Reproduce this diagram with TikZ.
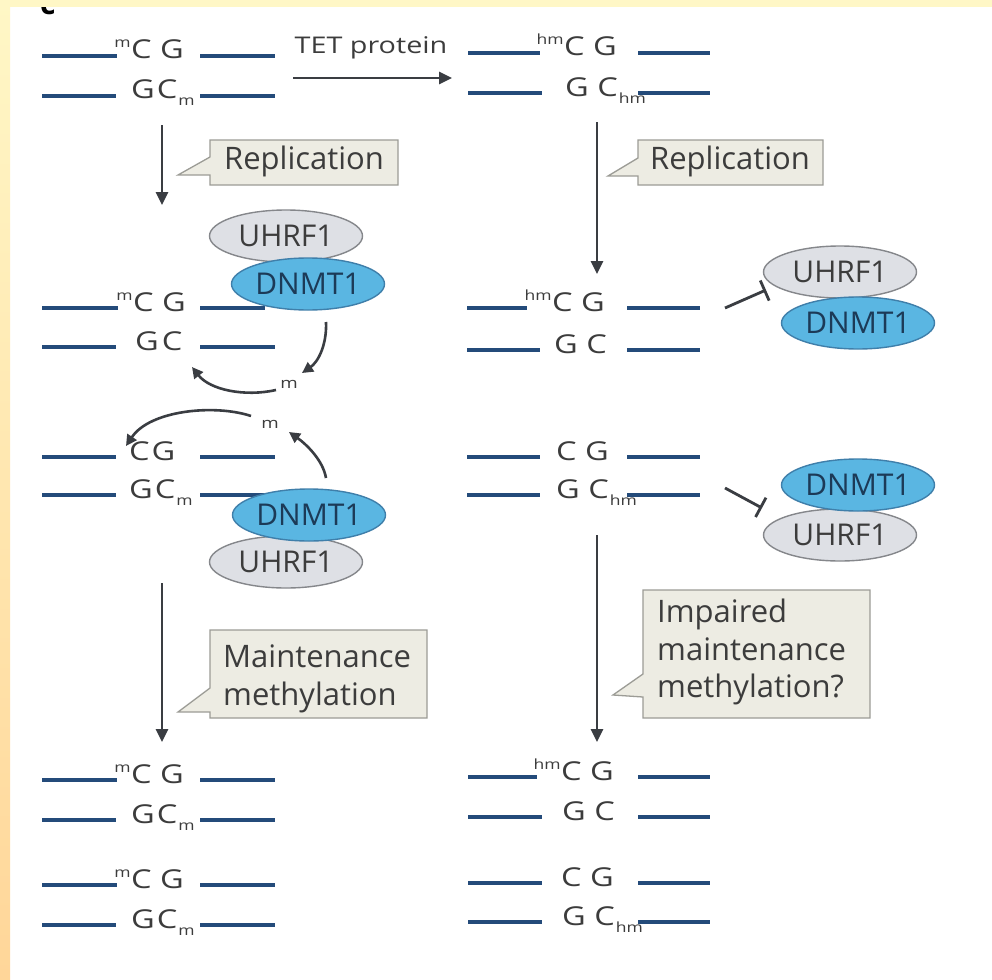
\documentclass[tikz,border=0pt]{standalone}
\usepackage{fontspec}
\setmainfont{Open Sans}
\newfontfamily\basefont{Open Sans}[FakeStretch=1.25]
\usetikzlibrary{arrows.meta,shapes.geometric}
\definecolor{strand}{HTML}{244B7A}
\definecolor{arr}{HTML}{3A3D42}
\definecolor{txt}{HTML}{3C3C3C}
\definecolor{boxfill}{HTML}{EDECE3}
\definecolor{boxdraw}{HTML}{9C9C96}
\definecolor{ufill}{HTML}{DEE0E5}
\definecolor{udraw}{HTML}{85878B}
\definecolor{dfill}{HTML}{5AB6E2}
\definecolor{ddraw}{HTML}{3F7FAA}
\definecolor{dtext}{HTML}{1C3A57}
\definecolor{bandtop}{HTML}{FFF7C6}
\definecolor{bandlo}{HTML}{FFD699}
\newcommand\supm[1]{\llap{\raisebox{11pt}{\fontsize{14}{14}\selectfont #1}\kern0.5pt}}
\newcommand\subm[1]{\rlap{\kern1pt\raisebox{-7pt}{\fontsize{14}{14}\selectfont #1}}}
\tikzset{
  strandline/.style={draw=strand, line width=4pt},
  bptext/.style={font=\basefont\fontsize{26}{26}\selectfont, text=txt, inner sep=0pt, anchor=base west},
  flow/.style={draw=arr, line width=2.8pt, -{Triangle[length=13pt,width=12pt]}},
  curv/.style={draw=arr, line width=2.6pt, -{Triangle[length=11pt,width=11pt]}},
  inhib/.style={draw=arr, line width=2.8pt, -{Bar[width=22pt]}},
  callout/.style={fill=boxfill, draw=boxdraw, line width=1.3pt},
  calltext/.style={font=\fontsize{31}{31}\selectfont, text=txt, inner sep=0pt},
  mlab/.style={font=\basefont\fontsize{15}{15}\selectfont, text=txt, inner sep=0pt},
  prot/.style={ellipse, line width=1.4pt, inner sep=0pt, minimum width=153pt, minimum height=52pt, font=\fontsize{30}{30}\selectfont},
  uhrf/.style={prot, fill=ufill, draw=udraw, text=txt},
  dnmt/.style={prot, fill=dfill, draw=ddraw, text=dtext},
}
\begin{document}
\begin{tikzpicture}[x=1pt,y=-1pt]
\useasboundingbox (0,0) rectangle (992,979);
\fill[white] (0,0) rectangle (992,979);
% panel label (clipped by the band, as in the reference)
\node[font=\bfseries\fontsize{30}{30}\selectfont, anchor=base west, inner sep=0pt] (panel) at (40,15) {c};
% ---------- left column strands ----------
% L1
\draw[strandline] (42,56) -- (117,56) (200,56) -- (275,56) (42,96) -- (116,96) (200,96) -- (275,96);
\node[bptext] (l1t) at (131,59) {\supm{m}C G};
\node[bptext] (l1b) at (131,99) {G\kern2pt C\subm{m}};
% L2
\draw[strandline] (42,308) -- (118,308) (200,308) -- (265,308) (42,347) -- (116,347) (200,347) -- (275,347);
\node[bptext] (l2t) at (133,311) {\supm{m}C G};
\node[bptext] (l2b) at (135,350) {G\kern3pt C};
% L3
\draw[strandline] (42,457) -- (116,457) (200,457) -- (275,457) (42,495) -- (116,495) (200,495) -- (265,495);
\node[bptext] (l3t) at (129,460) {C\kern2pt G};
\node[bptext] (l3b) at (129,498) {G\kern2pt C\subm{m}};
% L4
\draw[strandline] (42,780) -- (117,780) (200,780) -- (275,780) (42,820) -- (116,820) (200,820) -- (275,820);
\node[bptext] (l4t) at (131,783) {\supm{m}C G};
\node[bptext] (l4b) at (131,823) {G\kern2pt C\subm{m}};
% L5
\draw[strandline] (42,885) -- (117,885) (200,885) -- (275,885) (42,925) -- (116,925) (200,925) -- (275,925);
\node[bptext] (l5t) at (131,888) {\supm{m}C G};
\node[bptext] (l5b) at (131,928) {G\kern2pt C\subm{m}};
% ---------- right column strands ----------
% R1
\draw[strandline] (468,53) -- (540,53) (638,53) -- (710,53) (468,93) -- (542,93) (638,93) -- (710,93);
\node[bptext] (r1t) at (564,56) {\supm{hm}C G};
\node[bptext] (r1b) at (565,96) {G C\subm{hm}};
% R2
\draw[strandline] (467,308) -- (527,308) (627,308) -- (700,308) (467,350) -- (540,350) (627,350) -- (700,350);
\node[bptext] (r2t) at (552,311) {\supm{hm}C G};
\node[bptext] (r2b) at (554,353) {G C};
% R3
\draw[strandline] (467,457) -- (540,457) (627,457) -- (700,457) (467,495) -- (540,495) (627,495) -- (700,495);
\node[bptext] (r3t) at (556,460) {C G};
\node[bptext] (r3b) at (556,498) {G C\subm{hm}};
% R4
\draw[strandline] (468,777) -- (537,777) (638,777) -- (710,777) (468,817) -- (542,817) (638,817) -- (710,817);
\node[bptext] (r4t) at (561,780) {\supm{hm}C G};
\node[bptext] (r4b) at (562,820) {G C};
% R5
\draw[strandline] (468,883) -- (542,883) (638,883) -- (710,883) (468,922) -- (542,922) (638,922) -- (710,922);
\node[bptext] (r5t) at (561,886) {C G};
\node[bptext] (r5b) at (562,925) {G C\subm{hm}};
% ---------- TET arrow ----------
\node[font=\basefont\fontsize{23}{23}\selectfont, text=txt, inner sep=0pt, anchor=base] (tet) at (371,54) {TET protein};
\coordinate (tetS) at (293,78);
\coordinate (tetE) at (452,78);
\draw[flow] (tetS) -- (tetE);
% ---------- vertical arrows ----------
\coordinate (v1s) at (162,125); \coordinate (v1e) at (162,205);
\coordinate (v2s) at (597,122); \coordinate (v2e) at (597,274);
\coordinate (v3s) at (162,583); \coordinate (v3e) at (162,742);
\coordinate (v4s) at (597,535); \coordinate (v4e) at (597,742);
\draw[flow] (v1s) -- (v1e);
\draw[flow] (v2s) -- (v2e);
\draw[flow] (v3s) -- (v3e);
\draw[flow] (v4s) -- (v4e);
% ---------- callouts ----------
\draw[callout] (398,140) -- (210,140) -- (210,157) -- (178,175) -- (210,175) -- (210,185) -- (398,185) -- cycle;
\node[calltext, anchor=base] (rep1) at (304,169) {Replication};
\draw[callout] (823,140) -- (638,140) -- (638,158) -- (608,176) -- (638,176) -- (638,185) -- (823,185) -- cycle;
\node[calltext, anchor=base] (rep2) at (730,169) {Replication};
\draw[callout] (427,630) -- (210,630) -- (210,688) -- (178,712) -- (210,712) -- (210,718) -- (427,718) -- cycle;
\node[calltext, anchor=base west] (mm1) at (223,667) {Maintenance};
\node[calltext, anchor=base west] (mm2) at (223,705) {methylation};
\draw[callout] (870,590) -- (643,590) -- (643,674) -- (613,695) -- (643,697) -- (643,718) -- (870,718) -- cycle;
\node[calltext, anchor=base west] (im1) at (657,622) {Impaired};
\node[calltext, anchor=base west] (im2) at (657,660) {maintenance};
\node[calltext, anchor=base west] (im3) at (657,697) {methylation?};
% ---------- proteins ----------
\node[uhrf] (u1) at (286,236) {UHRF1};
\node[dnmt] (d1) at (308,284) {DNMT1};
\node[uhrf] (u2) at (286,562) {UHRF1};
\node[dnmt] (d2) at (309,515) {DNMT1};
\node[uhrf] (u3) at (840,272) {UHRF1};
\node[dnmt] (d3) at (858,323) {DNMT1};
\node[uhrf] (u4) at (840,535) {UHRF1};
\node[dnmt] (d4) at (858,485) {DNMT1};
% ---------- methyl transfer ----------
\node[mlab] (m1) at (289,384) {m};
\node[mlab] (m2) at (270,424) {m};
\coordinate (c1s) at (326,322);
\coordinate (c1e) at (302,373);
\draw[curv] (c1s) .. controls (327,345) and (318,362) .. (c1e);
\coordinate (c2s) at (276,390);
\coordinate (c2e) at (192,367);
\draw[curv] (c2s) .. controls (245,397) and (210,390) .. (c2e);
\coordinate (c3s) at (251,416);
\coordinate (c3e) at (126,446);
\draw[curv] (c3s) .. controls (215,404) and (150,410) .. (c3e);
\coordinate (c4s) at (326,478);
\coordinate (c4e) at (289,432);
\draw[curv] (c4s) .. controls (323,460) and (306,444) .. (c4e);
% ---------- inhibition ----------
\coordinate (i1s) at (725,308); \coordinate (i1e) at (766,290);
\coordinate (i2s) at (725,488); \coordinate (i2e) at (762,508);
\draw[inhib] (i1s) -- (i1e);
\draw[inhib] (i2s) -- (i2e);
% ---------- frame bands ----------
\fill[bandtop] (0,0) rectangle (992,7);
\shade[top color=bandtop, bottom color=bandlo] (0,0) rectangle (10,979);
\end{tikzpicture}
\end{document}
